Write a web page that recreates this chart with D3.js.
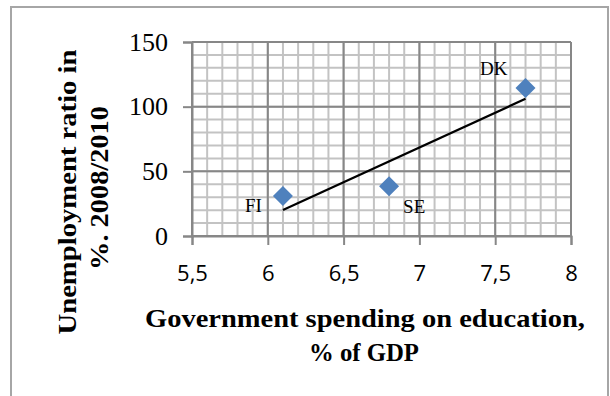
<!DOCTYPE html>
<html>
<head>
<meta charset="utf-8">
<script src="https://cdn.jsdelivr.net/npm/d3@7"></script>
<style>
  body { margin: 0; background: #fff; }
  svg { display: block; }
</style>
</head>
<body>
<svg></svg>
<script>
// data
let countries = ['FI', 'SE', 'DK']
let spending = [6.1, 6.8, 7.7]
let unemployment = [31, 38.5, 114.5]
let xTicks = [5.5, 6, 6.5, 7, 7.5, 8]
let yTicks = [0, 50, 100, 150]
let xTitle = ['Government spending on education,', '% of GDP']
let yTitle = ['Unemployment ratio in', '%. 2008/2010']

let width = 610
let height = 396

// plot area
let plotLeft = 192, plotRight = 571, plotTop = 42, plotBottom = 236

let svg = d3.select('svg').attr('width', width).attr('height', height)

let xScale = d3.scaleLinear().domain([5.5, 8]).range([plotLeft, plotRight])
let yScale = d3.scaleLinear().domain([0, 150]).range([plotBottom, plotTop])

// outer frame (open at the bottom, cropped)
svg.append('path')
  .attr('d', `M11,${height} L11,7 L608,7 L608,${height}`)
  .attr('fill', 'none')
  .attr('stroke', '#a6a6a6')
  .attr('stroke-width', 2)

// minor grid
let xMinor = d3.range(55, 81).map(d => d / 10)
let yMinor = d3.range(0, 151, 10)

svg.append('g').selectAll('line')
  .data(xMinor)
  .enter().append('line')
  .attr('x1', d => xScale(d)).attr('x2', d => xScale(d))
  .attr('y1', plotTop).attr('y2', plotBottom)
  .attr('stroke', '#c3c3c3').attr('stroke-width', 2)

svg.append('g').selectAll('line')
  .data(yMinor)
  .enter().append('line')
  .attr('x1', plotLeft).attr('x2', plotRight)
  .attr('y1', d => yScale(d)).attr('y2', d => yScale(d))
  .attr('stroke', '#c3c3c3').attr('stroke-width', 2)

// major grid
svg.append('g').selectAll('line')
  .data(xTicks)
  .enter().append('line')
  .attr('x1', d => xScale(d)).attr('x2', d => xScale(d))
  .attr('y1', plotTop).attr('y2', plotBottom)
  .attr('stroke', '#878787').attr('stroke-width', 2)

svg.append('g').selectAll('line')
  .data(yTicks)
  .enter().append('line')
  .attr('x1', plotLeft).attr('x2', plotRight)
  .attr('y1', d => yScale(d)).attr('y2', d => yScale(d))
  .attr('stroke', '#878787').attr('stroke-width', 2)

// axes
let xAxis = d3.axisBottom(xScale)
  .tickValues(xTicks)
  .tickSize(9)
  .tickPadding(20)
  .tickFormat(d => String(d).replace('.', ','))

let yAxis = d3.axisLeft(yScale)
  .tickValues(yTicks)
  .tickSize(9)
  .tickPadding(15)

let gx = svg.append('g')
  .attr('transform', `translate(0,${plotBottom})`)
  .call(xAxis)
gx.select('.domain').attr('stroke', '#878787').attr('stroke-width', 2)
gx.selectAll('.tick line').attr('stroke', '#878787').attr('stroke-width', 2)
gx.selectAll('.tick text')
  .attr('font-family', '"Open Sans", "Liberation Sans", sans-serif')
  .attr('font-size', 22)
  .attr('fill', '#000')

let gy = svg.append('g')
  .attr('transform', `translate(${plotLeft},0)`)
  .call(yAxis)
gy.select('.domain').attr('stroke', '#878787').attr('stroke-width', 2)
gy.selectAll('.tick line').attr('stroke', '#878787').attr('stroke-width', 2)
gy.selectAll('.tick text')
  .attr('font-family', '"Liberation Serif", serif')
  .attr('font-size', 26)
  .attr('fill', '#000')

// linear trend line
let mx = d3.mean(spending), my = d3.mean(unemployment)
let sxy = d3.sum(spending, (x, i) => (x - mx) * (unemployment[i] - my))
let sxx = d3.sum(spending, x => (x - mx) * (x - mx))
let slope = sxy / sxx
let icpt = my - slope * mx
let x0 = d3.min(spending), x1 = d3.max(spending)

svg.append('line')
  .attr('x1', xScale(x0)).attr('y1', yScale(icpt + slope * x0))
  .attr('x2', xScale(x1)).attr('y2', yScale(icpt + slope * x1))
  .attr('stroke', '#000')
  .attr('stroke-width', 2.2)

// points
let points = countries.map((c, i) => ({ name: c, x: spending[i], y: unemployment[i] }))

svg.append('g').selectAll('path')
  .data(points)
  .enter().append('path')
  .attr('d', 'M0,-10 L10,0 L0,10 L-10,0 Z')
  .attr('transform', d => `translate(${xScale(d.x)},${yScale(d.y)})`)
  .attr('fill', '#4f81bd')

// data labels
let labelPos = {
  FI: { dx: -21, dy: 16, anchor: 'end' },
  SE: { dx: 14, dy: 27, anchor: 'start' },
  DK: { dx: -18, dy: -13, anchor: 'end' }
}

svg.append('g').selectAll('text')
  .data(points)
  .enter().append('text')
  .attr('x', d => xScale(d.x) + labelPos[d.name].dx)
  .attr('y', d => yScale(d.y) + labelPos[d.name].dy)
  .attr('text-anchor', d => labelPos[d.name].anchor)
  .attr('font-family', '"Liberation Serif", serif')
  .attr('font-size', 19)
  .text(d => d.name)

// axis titles
let xt = svg.append('g')
  .attr('font-family', '"Liberation Serif", serif')
  .attr('font-weight', 'bold')
  .attr('font-size', 25)
  .attr('text-anchor', 'middle')

xt.append('text').attr('x', 365).attr('y', 327)
  .attr('textLength', 440).attr('lengthAdjust', 'spacingAndGlyphs')
  .text(xTitle[0])
xt.append('text').attr('x', 364).attr('y', 361)
  .attr('textLength', 110).attr('lengthAdjust', 'spacingAndGlyphs')
  .text(xTitle[1])

let yt = svg.append('g')
  .attr('font-family', '"Liberation Serif", serif')
  .attr('font-weight', 'bold')
  .attr('font-size', 25)
  .attr('text-anchor', 'middle')

yt.append('text')
  .attr('transform', 'translate(76,192) rotate(-90)')
  .attr('textLength', 285).attr('lengthAdjust', 'spacingAndGlyphs')
  .text(yTitle[0])
yt.append('text')
  .attr('transform', 'translate(108,188) rotate(-90)')
  .attr('textLength', 164).attr('lengthAdjust', 'spacingAndGlyphs')
  .text(yTitle[1])
</script>
</body>
</html>
